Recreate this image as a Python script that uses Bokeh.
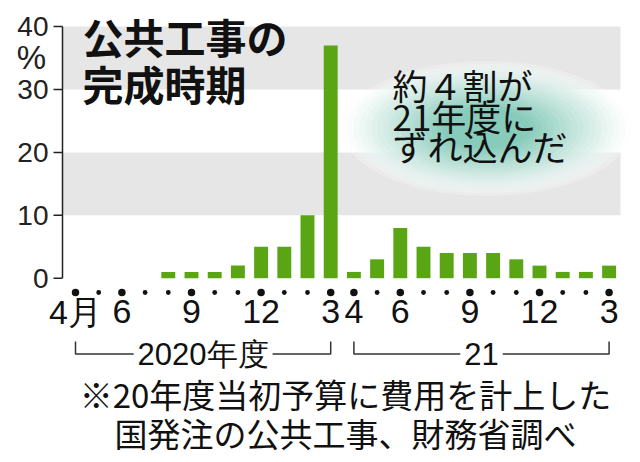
from bokeh.plotting import figure
from bokeh.models import Range1d
from bokeh.core.properties import value
from bokeh.embed import file_html
from bokeh.resources import INLINE

# ---- data ----
months = ["4月", "5", "6", "7", "8", "9", "10", "11", "12", "1", "2", "3",
          "4", "5", "6", "7", "8", "9", "10", "11", "12", "1", "2", "3"]
shares = [0, 0, 0, 0, 1, 1, 1, 2, 5, 5, 10, 37,
          1, 3, 8, 5, 4, 4, 4, 3, 2, 1, 1, 2]
shown_labels = {0: "4月", 2: "6", 5: "9", 8: "12", 11: "3",
                12: "4", 14: "6", 17: "9", 20: "12", 23: "3"}
year_groups = ["2020年度", "21"]
year_first = [0, 12]
year_last = [11, 23]
y_ticks = [0, 10, 20, 30, 40]
y_tick_labels = ["0", "10", "20", "30", "40"]
y_unit = "%"
band_bottom = [10, 30]
band_top = [20, 40]
title_lines = ["公共工事の", "完成時期"]
note_lines = ["約４割が", "21年度に", "ずれ込んだ"]
foot_lines = ["※20年度当初予算に費用を計上した", "国発注の公共工事、財務省調べ"]

# ---- layout helpers (page pixel -> data) ----
X0, XS = 75.0, 23.2
Y0, YS = 277.7, 6.29


def dx(px):
    return (px - X0) / XS


def dy(py):
    return (Y0 - py) / YS


W, H = 640, 462
AXIS_X = 62
p = figure(width=W, height=H, output_backend="svg", toolbar_location=None,
           x_range=Range1d(dx(0), dx(W)), y_range=Range1d(dy(H), dy(0)),
           x_axis_location=None, y_axis_location=None,
           min_border_left=0, min_border_right=0, min_border_top=0, min_border_bottom=0)
p.outline_line_color = None
p.grid.visible = False
p.background_fill_color = "white"

# bands
p.quad(left=[dx(AXIS_X)] * len(band_bottom), right=[dx(620)] * len(band_bottom),
       bottom=band_bottom, top=band_top, fill_color="#e6e6e6", line_color=None)

# value axis (line, ticks, labels) on the plot's scales
p.segment(x0=[dx(AXIS_X)], x1=[dx(AXIS_X)], y0=[min(y_ticks)], y1=[max(y_ticks)],
          line_color="#222222", line_width=1.5)
p.segment(x0=[dx(AXIS_X - 9)] * len(y_ticks), x1=[dx(AXIS_X)] * len(y_ticks),
          y0=y_ticks, y1=y_ticks, line_color="#222222", line_width=1.5)
p.text(x=[dx(AXIS_X - 14)] * len(y_ticks), y=y_ticks, text=y_tick_labels,
       text_font=value("Liberation Sans"), text_font_size="28px",
       text_align="right", text_baseline="middle", text_color="#222222")
p.text(x=[dx(31)], y=[dy(57)], text=[y_unit],
       text_font=value("Liberation Sans"), text_font_size="33px",
       text_align="center", text_baseline="middle", text_color="#222222")

idx = list(range(len(shares)))
p.vbar(x=idx, top=shares, bottom=0, width=0.6, fill_color="#5aa514", line_color=None)

# dots
sizes = [7.5 if i in shown_labels else 4.8 for i in idx]
p.scatter(x=idx, y=[dy(292)] * len(idx), size=sizes, fill_color="#111111", line_color=None)

# x labels
lx = list(shown_labels.keys())
p.text(x=lx, y=[dy(311)] * len(lx), text=[shown_labels[i] for i in lx],
       text_font=value("Liberation Sans"), text_font_size="34px",
       text_align="center", text_baseline="middle", text_color="#111111")

# year brackets
yb, yt = dy(353.5), dy(341)
xs = [[a, a, b, b] for a, b in zip(year_first, year_last)]
ys = [[yt, yb, yb, yt] for _ in year_first]
p.multi_line(xs=xs, ys=ys, line_color="#333333", line_width=1.5)
p.text(x=[(a + b) / 2 for a, b in zip(year_first, year_last)], y=[yb] * 2, text=year_groups,
       text_font=value("Liberation Sans"), text_font_size="31px",
       text_align="center", text_baseline="middle", text_color="#111111",
       background_fill_color="white", padding=4)

# glow
teal = (120, 196, 178)
n = 18
for k in range(n):
    s = 1.0 - 0.7 * k / (n - 1)
    t = (k + 1) / n
    c = tuple(int(255 + (tc - 255) * t) for tc in teal)
    p.ellipse(x=dx(486), y=dy(128), width=290 * s, height=135 * s,
              width_units="screen", height_units="screen",
              fill_color="#%02x%02x%02x" % c, fill_alpha=0.3, line_color=None)

# title
p.text(x=[dx(82)] * 2, y=[dy(35), dy(82)], text=title_lines,
       text_font=value("Noto Sans CJK JP"), text_font_size="41px", text_font_style="bold",
       text_align="left", text_baseline="middle", text_color="#111111")

# note
p.text(x=[dx(392)] * 3, y=[dy(84), dy(115), dy(145)], text=note_lines,
       text_font=value("Noto Sans CJK JP"), text_font_size="35px",
       text_align="left", text_baseline="middle", text_color="#111111")

# footnote
p.text(x=[dx(345)] * 2, y=[dy(393), dy(432)], text=foot_lines,
       text_font=value("Noto Sans CJK JP"), text_font_size="33px",
       text_align="center", text_baseline="middle", text_color="#111111")

open("out.html", "w").write(file_html(p, INLINE))
